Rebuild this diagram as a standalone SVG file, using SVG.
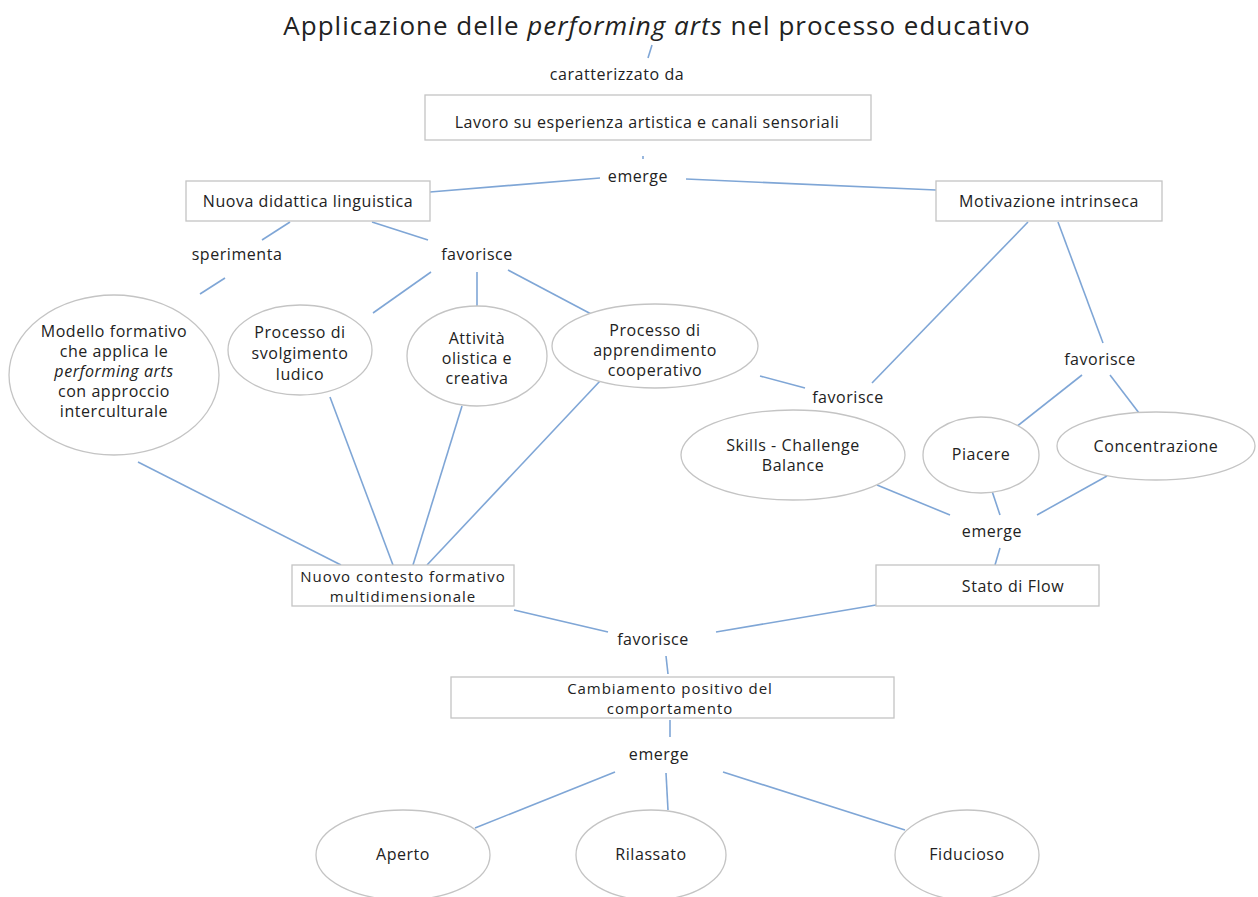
<svg xmlns="http://www.w3.org/2000/svg" width="1258" height="897" viewBox="0 0 1258 897">
<style>
text{font-family:"Open Sans","Liberation Sans",sans-serif;font-size:16px;letter-spacing:0.55px;fill:#222;text-anchor:middle}
.title{font-size:26px;letter-spacing:1px}
.sm{font-size:15px;letter-spacing:0.95px}
.box{fill:#fff;stroke:#c4c4c4;stroke-width:1.3}
.ell{fill:#fff;stroke:#c4c4c4;stroke-width:1.3}
.c line{stroke:#7fa6d6;stroke-width:1.6}
</style>
<rect width="1258" height="897" fill="#fff"/>
<g id="title"><text class="title" x="657" y="35">Applicazione delle <tspan font-style="italic">performing arts</tspan> nel processo educativo</text></g>
<g class="c" id="connectors">
<line x1="652" y1="45" x2="648" y2="58"/>
<line x1="643" y1="156" x2="643" y2="159"/>
<line x1="600" y1="178" x2="430" y2="192"/>
<line x1="686" y1="179" x2="936" y2="190"/>
<line x1="290" y1="222" x2="262" y2="240"/>
<line x1="372" y1="222" x2="428" y2="240"/>
<line x1="225" y1="278" x2="200" y2="294"/>
<line x1="431" y1="272" x2="373" y2="313"/>
<line x1="477" y1="272" x2="477" y2="310"/>
<line x1="508" y1="270" x2="593" y2="315"/>
<line x1="1028" y1="222" x2="872" y2="383"/>
<line x1="1058" y1="222" x2="1103" y2="343"/>
<line x1="1082" y1="375" x2="1016" y2="427"/>
<line x1="1110" y1="375" x2="1139" y2="413"/>
<line x1="760" y1="376" x2="805" y2="388"/>
<line x1="877" y1="485" x2="950" y2="515"/>
<line x1="990" y1="485" x2="1000" y2="515"/>
<line x1="1107" y1="476" x2="1037" y2="515"/>
<line x1="1000" y1="548" x2="995" y2="565"/>
<line x1="138" y1="462" x2="341" y2="565"/>
<line x1="330" y1="397" x2="393" y2="565"/>
<line x1="462" y1="406" x2="413" y2="565"/>
<line x1="616" y1="364" x2="427" y2="565"/>
<line x1="514" y1="610" x2="608" y2="632"/>
<line x1="876" y1="605" x2="716" y2="632"/>
<line x1="666" y1="656" x2="668" y2="674"/>
<line x1="670" y1="720" x2="670" y2="737"/>
<line x1="615" y1="772" x2="475" y2="828"/>
<line x1="666" y1="773" x2="668" y2="810"/>
<line x1="723" y1="772" x2="905" y2="830"/>
</g>
<g id="lbl-caratterizzato"><text x="617" y="80">caratterizzato da</text></g>
<g id="n-lavoro"><rect class="box" x="425" y="95" width="446" height="45"/><text x="647" y="128">Lavoro su esperienza artistica e canali sensoriali</text></g>
<g id="lbl-emerge1"><text x="638" y="182">emerge</text></g>
<g id="n-nuova"><rect class="box" x="186" y="181" width="244" height="40"/><text x="308" y="207">Nuova didattica linguistica</text></g>
<g id="n-motivazione"><rect class="box" x="936" y="181" width="226" height="40"/><text x="1049" y="207">Motivazione intrinseca</text></g>
<g id="lbl-sperimenta"><text x="237" y="260">sperimenta</text></g>
<g id="lbl-favorisce1"><text x="477" y="260">favorisce</text></g>
<g id="n-modello"><ellipse class="ell" cx="114" cy="375" rx="105" ry="80"/><text x="114" y="337">Modello formativo</text><text x="114" y="357">che applica le</text><text x="114" y="377" font-style="italic">performing arts</text><text x="114" y="397">con approccio</text><text x="114" y="417">interculturale</text></g>
<g id="n-svolgimento"><ellipse class="ell" cx="300" cy="350" rx="72" ry="45"/><text x="300" y="338">Processo di</text><text x="300" y="359">svolgimento</text><text x="300" y="380">ludico</text></g>
<g id="n-attivita"><ellipse class="ell" cx="477" cy="356" rx="70" ry="50"/><text x="477" y="344">Attività</text><text x="477" y="364">olistica e</text><text x="477" y="384">creativa</text></g>
<g id="n-apprendimento"><ellipse class="ell" cx="655" cy="346" rx="103" ry="42"/><text x="655" y="336">Processo di</text><text x="655" y="356">apprendimento</text><text x="655" y="376">cooperativo</text></g>
<g id="lbl-favorisce2"><text x="848" y="403">favorisce</text></g>
<g id="lbl-favorisce3"><text x="1100" y="365">favorisce</text></g>
<g id="n-skills"><ellipse class="ell" cx="793" cy="455" rx="112" ry="45"/><text x="793" y="451">Skills - Challenge</text><text x="793" y="471">Balance</text></g>
<g id="n-piacere"><ellipse class="ell" cx="981" cy="455" rx="58" ry="38"/><text x="981" y="460">Piacere</text></g>
<g id="n-concentrazione"><ellipse class="ell" cx="1156" cy="446" rx="99" ry="34"/><text x="1156" y="452">Concentrazione</text></g>
<g id="lbl-emerge2"><text x="992" y="537">emerge</text></g>
<g id="n-nuovocontesto"><rect class="box" x="292" y="565" width="222" height="41"/><text class="sm" x="403" y="582">Nuovo contesto formativo</text><text class="sm" x="403" y="602">multidimensionale</text></g>
<g id="n-flow"><rect class="box" x="876" y="565" width="223" height="41"/><text x="1013" y="592">Stato di Flow</text></g>
<g id="lbl-favorisce4"><text x="653" y="645">favorisce</text></g>
<g id="n-cambiamento"><rect class="box" x="451" y="677" width="443" height="41"/><text class="sm" x="670" y="694">Cambiamento positivo del</text><text class="sm" x="670" y="714">comportamento</text></g>
<g id="lbl-emerge3"><text x="659" y="760">emerge</text></g>
<g id="n-aperto"><ellipse class="ell" cx="403" cy="855" rx="87" ry="45"/><text x="403" y="860">Aperto</text></g>
<g id="n-rilassato"><ellipse class="ell" cx="651" cy="855" rx="75" ry="45"/><text x="651" y="860">Rilassato</text></g>
<g id="n-fiducioso"><ellipse class="ell" cx="967" cy="855" rx="72" ry="45"/><text x="967" y="860">Fiducioso</text></g>
</svg>
